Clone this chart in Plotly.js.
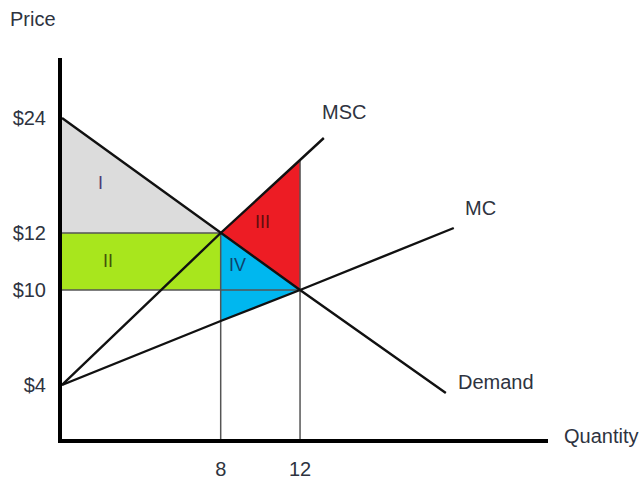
<!DOCTYPE html>
<html>
<head>
<meta charset="utf-8">
<script src="https://cdn.plot.ly/plotly-3.0.1.min.js"></script>
<style>
  html, body { margin: 0; padding: 0; background: #fff; }
  #chart { width: 644px; height: 481px; }
</style>
</head>
<body>
<div id="chart"></div>
<script>
// The diagram is schematic: the vertical axis is drawn height, the price
// labels sit at the heights where the original drawing put them.
const priceLabels = ['$4', '$10', '$12', '$24'];
const priceHeights = [2.7, 7.45, 10.3, 16.05];
const qtyTicks = [8, 12];

const demandQ = [0, 8, 12, 19.35];
const demandH = [16.05, 10.3, 7.45, 2.3];
const mcQ = [0, 8, 12, 19.75];
const mcH = [2.7, 5.9, 7.45, 10.55];
const mscQ = [0, 8, 12, 13.2];
const mscH = [2.7, 10.3, 13.95, 15.05];

// areas I - IV
const areaI = { q: [0, 0, 8], h: [16.05, 10.3, 10.3] };
const areaII = { q: [0, 8, 8, 0], h: [7.45, 7.45, 10.3, 10.3] };
const areaIII = { q: [8, 12, 12], h: [10.3, 13.95, 7.45] };
const areaIV = { q: [8, 12, 8], h: [10.3, 7.45, 5.9] };

// thin guide lines: q=8, q=12, $12, $10
const guideQ = [8, 8, null, 12, 12, null, 0, 8, null, 0, 12];
const guideH = [0, 10.3, null, 0, 13.95, null, 10.3, 10.3, null, 7.45, 7.45];

const txt = '#2e3340';
const font = { family: 'Liberation Sans, Arial, sans-serif', size: 20, color: txt };
const romanFont = c => ({ family: font.family, size: 18, color: c });

function area(a, color) {
    return {
        x: a.q, y: a.h, type: 'scatter', mode: 'lines',
        fill: 'toself', fillcolor: color,
        line: { width: 0, color: color }, hoverinfo: 'skip'
    };
}

function curve(q, h) {
    return {
        x: q, y: h, type: 'scatter', mode: 'lines',
        line: { color: '#111', width: 2.4 }, hoverinfo: 'skip'
    };
}

const data = [
    area(areaI, '#dcdcdc'),
    area(areaII, '#a8e61d'),
    area(areaIII, '#ed1c24'),
    area(areaIV, '#00b7ef'),
    {
        x: guideQ, y: guideH, type: 'scatter', mode: 'lines',
        line: { color: '#555', width: 1.5 }, connectgaps: false, hoverinfo: 'skip'
    },
    curve(demandQ, demandH),
    curve(mcQ, mcH),
    curve(mscQ, mscH)
];

function label(text, x, y, opts) {
    return Object.assign({
        text, x, y, xref: 'x', yref: 'y', showarrow: false,
        xanchor: 'left', yanchor: 'middle', font
    }, opts || {});
}

// plot area is 486 x 381 px, starting at (62, 58)
const annotations = [
    label('MSC', 13.0, 16.35),
    label('MC', 20.2, 11.55),
    label('Demand', 19.85, 2.85),
    label('I', 1.92, 12.8, { xanchor: 'center', font: romanFont('#4a3b74') }),
    label('II', 2.32, 8.9, { xanchor: 'center', font: romanFont('#42520a') }),
    label('III', 10.1, 10.85, { xanchor: 'center', font: romanFont('#5e0e0e') }),
    label('IV', 8.85, 8.7, { xanchor: 'center', font: romanFont('#0e426a') }),
    {
        text: 'Quantity', xref: 'paper', yref: 'paper',
        x: (562 - 62) / 486, y: (439 - 436) / 381,
        showarrow: false, font, xanchor: 'left', yanchor: 'middle'
    },
    {
        text: 'Price', xref: 'paper', yref: 'paper',
        x: (33 - 62) / 486, y: 1 + (58 - 19) / 381,
        showarrow: false, font, xanchor: 'center', yanchor: 'middle'
    }
];

const layout = {
    width: 644, height: 481,
    margin: { l: 62, r: 96, t: 58, b: 42 },
    paper_bgcolor: '#fff', plot_bgcolor: '#fff',
    showlegend: false, hovermode: false,
    xaxis: {
        range: [0, 24.5], showgrid: false, zeroline: false,
        showline: true, linewidth: 4, linecolor: '#000',
        tickvals: qtyTicks, ticktext: qtyTicks.map(String),
        ticks: '', tickfont: font, ticklabelstandoff: 9
    },
    yaxis: {
        range: [0, 19.05], showgrid: false, zeroline: false,
        showline: true, linewidth: 4, linecolor: '#000',
        tickvals: priceHeights, ticktext: priceLabels,
        ticks: '', tickfont: font, ticklabelstandoff: 8
    },
    annotations
};

Plotly.newPlot('chart', data, layout, { staticPlot: true });
</script>
</body>
</html>
